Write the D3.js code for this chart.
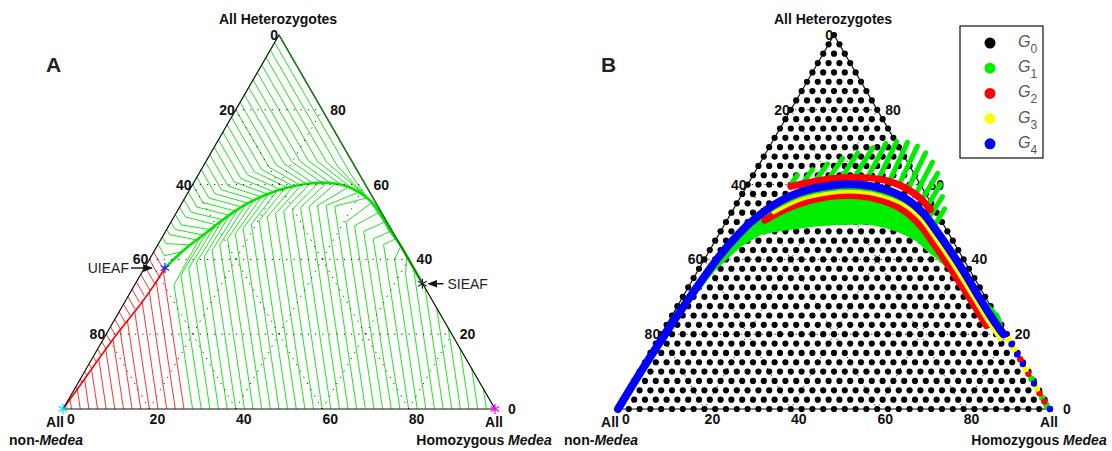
<!DOCTYPE html>
<html>
<head>
<meta charset="utf-8">
<script src="https://cdnjs.cloudflare.com/ajax/libs/d3/7.8.5/d3.min.js"></script>
<style>
  body { margin: 0; background: #fff; }
  text { font-family: "Liberation Sans", Arial, Helvetica, sans-serif; }
  .tick { font-size: 14px; font-weight: bold; fill: #111; }
  .corner { font-size: 14px; font-weight: bold; fill: #111; }
</style>
</head>
<body>
<div id="plot"></div>
<script>
// Medea ternary plots
// every point is [Medea allele %, heterozygote %]
// (allele % = homozygous Medea % + half the heterozygotes, i.e. the across position)

var svgWidth = 1112;
var svgHeight = 451;

var tickValues = [0, 20, 40, 60, 80];
var gridValues = [20, 40, 60, 80];

// ---- panel A : trajectories ----
var redArc = [[0, 0], [4, 6.4], [8.6, 13.9], [13.2, 21.1], [17.8, 27.8], [21, 33], [23.6, 37.7]];
var greenArc = [[23.6, 37.7], [28, 42.5], [33, 47], [37.5, 51], [42, 54.5], [47, 57.3], [52, 59.2],
  [57, 60.3], [61, 60.5], [65, 59.8], [68.5, 58], [71.5, 55.3], [73.8, 51.5], [75.8, 47.5],
  [77.7, 44.5], [83.2, 33.5]];

var redLines = [
  [[2, 0], [1.6, 2.6]], [[4, 0], [3.3, 5.3]], [[6, 0], [5, 8]], [[8, 0], [6.6, 10.7]],
  [[10, 0], [8.3, 13.3]], [[12, 0], [9.9, 15.9]], [[14, 0], [11.6, 18.5]], [[16, 0], [13.2, 21.2]],
  [[18, 0], [14.9, 23.6]], [[20, 0], [16.6, 26.1]], [[22, 0], [18.3, 28.9]], [[24, 0], [20, 31.1]],
  [[26, 0], [21.6, 34]], [[28, 0], [23.2, 36.9]],
  [[3, 6], [3.3, 5.3]], [[4, 8], [4.4, 7.1]], [[5, 10], [5.6, 8.9]], [[6, 12], [6.7, 10.7]],
  [[7, 14], [7.8, 12.4]], [[8, 16], [8.9, 14.2]], [[9, 18], [10, 16]], [[10, 20], [11.1, 17.8]],
  [[11, 22], [12.2, 19.6]], [[12, 24], [13.3, 21.3]], [[13, 26], [14.4, 23.1]], [[14, 28], [15.6, 24.9]],
  [[15, 30], [16.7, 26.7]], [[16, 32], [17.7, 28.5]], [[17, 34], [18.8, 30.3]], [[18, 36], [20.2, 31.6]],
  [[19, 38], [21.25, 33.5]], [[20, 40], [22.3, 35.3]], [[21, 42], [23.3, 37.3]]
];

var greenLines = [
  // from the base up to the curve
  [[30, 0], [25.7, 33.2], [31.7, 45.8]], [[32, 0], [27.3, 35.8], [33.3, 47.2]],
  [[34, 0], [29.1, 37.6], [35.1, 48.8]], [[36, 0], [30.9, 39.2], [36.9, 50.5]],
  [[38, 0], [32.7, 40.7], [38.7, 52.1]], [[40, 0], [34.5, 42.4], [40.5, 53.3]],
  [[42, 0], [36.3, 44], [42.3, 54.6]], [[44, 0], [38.1, 45.5], [44.1, 55.6]],
  [[46, 0], [39.9, 46.9], [45.9, 56.6]], [[48, 0], [41.7, 48.3], [47.7, 57.6]],
  [[50, 0], [43.6, 49.4], [49.6, 58.4]], [[52, 0], [45.4, 50.4], [51.4, 59]],
  [[54, 0], [47.3, 51.4], [53.3, 59.5]], [[56, 0], [49.2, 52.2], [55.2, 59.9]],
  [[58, 0], [51.1, 52.9], [57.1, 60.2]], [[60, 0], [53.1, 53.4], [59.1, 60.4]],
  [[62, 0], [55, 53.9], [61, 60.4]], [[64, 0], [57, 54.2], [63, 60.2]],
  [[66, 0], [58.9, 54.4], [66, 59.3]], [[68, 0], [60.9, 54.4], [68.5, 58]],
  [[70, 0], [62.9, 54.2], [70.5, 56.5]], [[72, 0], [65.5, 50], [71.5, 55.2]],
  [[74, 0], [67.5, 49], [73, 52.5]], [[76, 0], [69.6, 47.5], [74.5, 50]],
  [[78, 0], [71.8, 45.5], [75.8, 47.5]], [[80, 0], [74.2, 44], [77, 45.5]],
  [[82, 0], [76.8, 40], [78.2, 43.6]], [[84, 0], [79.3, 36], [79.6, 40.8]],
  [[86, 0], [81.1, 37.8]], [[88, 0], [83.8, 32.4]], [[90, 0], [86.5, 27]],
  [[92, 0], [89.2, 21.6]], [[94, 0], [91.9, 16.2]], [[96, 0], [94.6, 10.8]], [[98, 0], [97.3, 5.4]],
  // from the left side down to the curve
  [[22, 44], [23.5, 41], [27.5, 42]], [[23, 46], [23.9, 44.2], [29.5, 43.9]],
  [[24, 48], [24.7, 46.6], [31, 45.2]], [[25, 50], [26, 48], [32.5, 46.5]],
  [[26, 52], [27.4, 49.2], [34, 48]], [[27, 54], [28.3, 51.4], [35.5, 49.2]],
  [[28, 56], [29.7, 52.6], [37, 50.6]], [[29, 58], [31, 54], [38.5, 51.8]],
  [[30, 60], [32.4, 55.2], [40, 52.9]], [[31, 62], [33.8, 56.4], [41.5, 54]],
  [[32, 64], [35.25, 57.5], [43, 55]], [[33, 66], [36.7, 58.6], [44.5, 55.9]],
  [[34, 68], [38.2, 59.6], [46, 56.7]], [[35, 70], [39.65, 60.7], [47.5, 57.4]],
  [[36, 72], [41.2, 61.6], [49, 58]], [[37, 74], [42.7, 62.6], [50.5, 58.6]],
  [[38, 76], [44.3, 63.4], [52, 59.2]], [[39, 78], [46, 64], [53.5, 59.5]],
  [[40, 80], [47.65, 64.7], [55, 59.8]], [[41, 82], [49.4, 65.2], [56.5, 60.1]],
  [[42, 84], [51.2, 65.6], [58, 60.3]], [[43, 86], [52.95, 66.1], [60, 60.5]],
  [[44, 88], [54.9, 66.2], [62, 60.3]], [[45, 90], [56.8, 66.4], [64.5, 59.9]],
  [[46, 92], [58.9, 66.2], [67, 58.9]], [[47, 94], [61, 66], [69.5, 57.6]],
  [[48, 96], [63.5, 65], [72, 54.5]], [[49, 98], [66.6, 62.8], [75, 49]],
  [[50, 100], [83.2, 33.5]]
];

var uieaf = [23.6, 37.7];
var sieaf = [83.2, 33.5];

// ---- panel B : generations ----
var gridPct = [0, 2.5, 5, 7.5, 10, 12.5, 15, 17.5, 20, 22.5, 25, 27.5, 30, 32.5, 35, 37.5, 40,
  42.5, 45, 47.5, 50, 52.5, 55, 57.5, 60, 62.5, 65, 67.5, 70, 72.5, 75, 77.5, 80, 82.5, 85,
  87.5, 90, 92.5, 95, 97.5, 100];

var genNames = ["0", "1", "2", "3", "4"];
var genColors = ["#000000", "#00ee00", "#ff0000", "#ffff00", "#0000ff"];

var g1Region = [[16, 28], [22, 37], [28, 43.5], [33, 47], [37.5, 47.9], [45.6, 49.2], [51, 49.6],
  [57.9, 49.7], [62, 48.8], [66.2, 47.1], [69.5, 45], [71.8, 42.5], [74.5, 40], [76.9, 37.2],
  [78.9, 35], [80.8, 32.6], [83, 30.5], [85, 28.3], [86.8, 26.5], [88.2, 24.6], [89.2, 20],
  [86.2, 25], [83, 31], [79.9, 37], [76.8, 42.5], [73.8, 47.5], [70.5, 52.5], [66.5, 56.3],
  [61.5, 58.8], [55.5, 60], [49, 59.7], [42.3, 58], [36, 54.5], [30.8, 50], [26.5, 45],
  [22.9, 40], [16.7, 30]];
var g1Streaks = [
  [[40, 60], [41.5, 62.5]], [[43, 60.8], [45, 64]], [[46, 61.5], [48.5, 65.5]],
  [[49, 62], [52, 67]], [[52, 62.3], [55.5, 68.5]], [[55, 62.5], [59, 69.8]],
  [[58, 62.4], [62, 71]], [[60.5, 62], [64.5, 71.5]], [[63, 61.3], [67, 71.3]],
  [[65.2, 60.3], [69.3, 70.3]], [[67.2, 59], [71.2, 68.5]], [[69, 57.5], [72.8, 66]],
  [[70.3, 55.8], [74, 63]], [[71.5, 54], [74.6, 60]], [[72.5, 52], [75.1, 56.8]],
  [[73.5, 49.5], [75.6, 53.5]]
];
var g2Outer = [[40, 59.5], [46, 61], [52, 61.8], [58, 61.8], [63, 60.8], [67, 58.8], [70, 56.3], [72.3, 53.3]];
var g2Inner = [[34, 50.5], [38, 53], [42.3, 55], [49, 56.8], [55.5, 57], [61.5, 55.6], [66.5, 52.8],
  [70.2, 48.8], [73, 44.3], [76, 39.3], [79, 34], [82.2, 28.2], [85.3, 22.3]];
var g3Curve = [[36, 52.5], [42.3, 56], [49, 57.7], [55.5, 58], [61.5, 56.8], [66.5, 54.3], [70.3, 50.5],
  [73.3, 45.7], [76.3, 40.7], [79.3, 35.3], [82.4, 29.5], [85.5, 23.6], [88.5, 18.5]];
var g4Curve = [[0, 0], [5.3, 10], [10.9, 20], [16.7, 30], [22.9, 40], [26.5, 45], [30.8, 50],
  [36, 54.5], [42.3, 58], [49, 59.7], [55.5, 60], [61.5, 58.8], [66.5, 56.3], [70.5, 52.5],
  [73.8, 47.5], [76.8, 42.5], [79.9, 37], [83, 31], [86.2, 25], [89.2, 20]];

var g1EdgeDots = [[95.7, 8.1], [98.2, 3], [99.2, 1]];
var g2EdgeDots = [[93.1, 13.3], [95, 9.4], [97.6, 4.2], [98.7, 2]];
var g3EdgeDots = [[90.4, 18.6], [91.7, 16], [94.4, 10.7], [97, 5.5]];
var g4EdgeDots = [[89.7, 20], [91.1, 17.3], [92.4, 14.6], [93.7, 12], [96.3, 6.8], [100, 0]];

// ---- scales shared by both triangles ----
var side = 432;
var triH = 374;
var xScale = d3.scaleLinear().domain([0, 100]).range([0, side]);
var yScale = d3.scaleLinear().domain([0, 100]).range([triH, 0]);

var line = d3.line().x(d => xScale(d[0])).y(d => yScale(d[1]));
var curve = d3.line().curve(d3.curveCatmullRom).x(d => xScale(d[0])).y(d => yScale(d[1]));

var svg = d3.select("#plot")
  .append("svg")
  .attr("width", svgWidth)
  .attr("height", svgHeight)
  .style("background", "#fff");

var panelA = svg.append("g").attr("transform", "translate(63, 35)");
var panelB = svg.append("g").attr("transform", "translate(618, 35)");

// dotted ternary grid
function drawGrid(g, dash) {
  var segs = [];
  gridValues.forEach(function (v) {
    segs.push([[v / 2, v], [100 - v / 2, v]]);                 // same heterozygotes
    segs.push([[v, 0], [v + (100 - v) / 2, 100 - v]]);         // same homozygous Medea
    segs.push([[100 - v, 0], [(100 - v) / 2, 100 - v]]);       // same non-Medea
  });
  g.append("g").selectAll("path")
    .data(segs)
    .enter()
    .append("path")
    .attr("d", line)
    .attr("fill", "none")
    .attr("stroke", "#222")
    .attr("stroke-width", 1)
    .attr("stroke-dasharray", dash);
}

function drawFrame(g, letter) {
  g.append("path")
    .attr("d", line([[0, 0], [100, 0], [50, 100], [0, 0]]))
    .attr("fill", "none")
    .attr("stroke", "#111")
    .attr("stroke-width", 1.2);

  // left side: non-Medea %
  g.append("g").selectAll("text")
    .data(tickValues)
    .enter()
    .append("text")
    .attr("class", "tick")
    .attr("text-anchor", "end")
    .attr("x", d => xScale((100 - d) / 2) - 1)
    .attr("y", d => yScale(100 - d) + 5)
    .text(d => d);

  // right side: heterozygotes %
  g.append("g").selectAll("text")
    .data(tickValues)
    .enter()
    .append("text")
    .attr("class", "tick")
    .attr("x", d => xScale(100 - d / 2) + (d === 0 ? 13 : 8))
    .attr("y", d => yScale(d) + 5)
    .text(d => d);

  // base: homozygous Medea %
  g.append("g").selectAll("text")
    .data(tickValues)
    .enter()
    .append("text")
    .attr("class", "tick")
    .attr("text-anchor", "middle")
    .attr("x", d => xScale(d) + 8)
    .attr("y", yScale(0) + 15)
    .text(d => d);

  g.append("text").attr("class", "corner")
    .attr("text-anchor", "middle")
    .attr("x", xScale(50) - 1).attr("y", yScale(100) - 11)
    .text("All Heterozygotes");

  g.append("text").attr("class", "corner")
    .attr("text-anchor", "middle")
    .attr("x", xScale(0) - 8).attr("y", yScale(0) + 18)
    .text("All");
  var nm = g.append("text").attr("class", "corner")
    .attr("text-anchor", "middle")
    .attr("x", xScale(0) - 17).attr("y", yScale(0) + 36);
  nm.append("tspan").text("non-");
  nm.append("tspan").attr("font-style", "italic").text("Medea");

  g.append("text").attr("class", "corner")
    .attr("text-anchor", "middle")
    .attr("x", xScale(100) - 1).attr("y", yScale(0) + 18)
    .text("All");
  var hm = g.append("text").attr("class", "corner")
    .attr("text-anchor", "middle")
    .attr("x", xScale(100) - 11).attr("y", yScale(0) + 36);
  hm.append("tspan").text("Homozygous ");
  hm.append("tspan").attr("font-style", "italic").text("Medea");

  g.append("text")
    .attr("x", -17).attr("y", 37)
    .attr("font-size", "21px")
    .attr("font-weight", "bold")
    .attr("fill", "#222")
    .text(letter);
}

// ---- Panel A ----
panelA.append("g").selectAll("path")
  .data(greenLines)
  .enter()
  .append("path")
  .attr("d", line)
  .attr("fill", "none")
  .attr("stroke", "#00e400")
  .attr("stroke-width", 0.9);

panelA.append("g").selectAll("path")
  .data(redLines)
  .enter()
  .append("path")
  .attr("d", line)
  .attr("fill", "none")
  .attr("stroke", "#ff1a1a")
  .attr("stroke-width", 0.9);

panelA.append("path")
  .attr("d", curve(greenArc))
  .attr("fill", "none")
  .attr("stroke", "#00e400")
  .attr("stroke-width", 2.6);

panelA.append("path")
  .attr("d", curve(redArc))
  .attr("fill", "none")
  .attr("stroke", "#ff0000")
  .attr("stroke-width", 1.6);

drawGrid(panelA, "1.2,6");
drawFrame(panelA, "A");

// right side overlaid green down to SIEAF
panelA.append("path")
  .attr("d", line([[50, 100], sieaf]))
  .attr("stroke", "#1a8a1a")
  .attr("stroke-width", 1.3);

var star = d3.symbol().type(d3.symbolAsterisk).size(70);
var stars = [
  { p: [0, 0], c: "#00e5ee" },
  { p: [100, 0], c: "#ff00ff" },
  { p: uieaf, c: "#2222ff" },
  { p: sieaf, c: "#222" }
];
panelA.append("g").selectAll("path")
  .data(stars)
  .enter()
  .append("path")
  .attr("d", star)
  .attr("transform", d => `translate(${xScale(d.p[0])}, ${yScale(d.p[1])})`)
  .attr("fill", "none")
  .attr("stroke", d => d.c)
  .attr("stroke-width", 1.3);

svg.append("defs").append("marker")
  .attr("id", "head")
  .attr("viewBox", "0 0 10 10")
  .attr("refX", 9).attr("refY", 5)
  .attr("markerWidth", 7).attr("markerHeight", 7)
  .attr("orient", "auto")
  .append("path")
  .attr("d", "M0,1 L10,5 L0,9 Z")
  .attr("fill", "#111");

var ux = xScale(uieaf[0]), uy = yScale(uieaf[1]);
panelA.append("line")
  .attr("x1", ux - 34).attr("y1", uy).attr("x2", ux - 13).attr("y2", uy)
  .attr("stroke", "#111").attr("stroke-width", 1.4)
  .attr("marker-end", "url(#head)");
panelA.append("text")
  .attr("text-anchor", "end")
  .attr("x", ux - 36).attr("y", uy + 5)
  .attr("font-size", "14px").attr("fill", "#222")
  .text("UIEAF");

var sx = xScale(sieaf[0]), sy = yScale(sieaf[1]);
panelA.append("line")
  .attr("x1", sx + 21).attr("y1", sy).attr("x2", sx + 6).attr("y2", sy)
  .attr("stroke", "#111").attr("stroke-width", 1.4)
  .attr("marker-end", "url(#head)");
panelA.append("text")
  .attr("x", sx + 25).attr("y", sy + 5)
  .attr("font-size", "14px").attr("fill", "#222")
  .text("SIEAF");

// ---- Panel B ----
drawGrid(panelB, "1.2,3");

var g0 = [];
gridPct.forEach(function (h) {
  gridPct.forEach(function (m) {
    if (h + m <= 100) g0.push([m + h / 2, h]);
  });
});

panelB.append("g").selectAll("circle")
  .data(g0)
  .enter()
  .append("circle")
  .attr("cx", d => xScale(d[0]))
  .attr("cy", d => yScale(d[1]))
  .attr("r", 3.1)
  .attr("fill", genColors[0]);

drawFrame(panelB, "B");

panelB.append("path")
  .attr("d", line(g1Region) + "Z")
  .attr("fill", genColors[1])
  .attr("stroke", genColors[1])
  .attr("stroke-width", 3)
  .attr("stroke-linejoin", "round");

panelB.append("g").selectAll("path")
  .data(g1Streaks)
  .enter()
  .append("path")
  .attr("d", line)
  .attr("stroke", genColors[1])
  .attr("stroke-width", 5)
  .attr("stroke-linecap", "round");

panelB.append("path")
  .attr("d", curve(g2Outer))
  .attr("fill", "none")
  .attr("stroke", genColors[2])
  .attr("stroke-width", 7)
  .attr("stroke-linecap", "round");

panelB.append("path")
  .attr("d", curve(g2Inner))
  .attr("fill", "none")
  .attr("stroke", genColors[2])
  .attr("stroke-width", 7)
  .attr("stroke-linecap", "round");

panelB.append("path")
  .attr("d", curve(g3Curve))
  .attr("fill", "none")
  .attr("stroke", genColors[3])
  .attr("stroke-width", 3.5)
  .attr("stroke-linecap", "round");

panelB.append("path")
  .attr("d", curve(g4Curve))
  .attr("fill", "none")
  .attr("stroke", genColors[4])
  .attr("stroke-width", 8)
  .attr("stroke-linecap", "round");

[g1EdgeDots, g2EdgeDots, g3EdgeDots, g4EdgeDots].forEach(function (dots, i) {
  panelB.append("g").selectAll("circle")
    .data(dots)
    .enter()
    .append("circle")
    .attr("cx", d => xScale(d[0]))
    .attr("cy", d => yScale(d[1]))
    .attr("r", 3.2)
    .attr("fill", genColors[i + 1]);
});

// legend
var legend = svg.append("g").attr("transform", "translate(960, 26)");
legend.append("rect")
  .attr("width", 83).attr("height", 132)
  .attr("fill", "#fff")
  .attr("stroke", "#111")
  .attr("stroke-width", 1.2);

var rows = legend.selectAll("g.row")
  .data(genNames)
  .enter()
  .append("g")
  .attr("class", "row")
  .attr("transform", (d, i) => `translate(0, ${17 + i * 25.2})`);

rows.append("circle")
  .attr("cx", 30).attr("r", 5.5)
  .attr("fill", (d, i) => genColors[i]);

var lab = rows.append("text")
  .attr("x", 58).attr("y", 4)
  .attr("fill", "#555");
lab.append("tspan").attr("font-style", "italic").attr("font-size", "16px").text("G");
lab.append("tspan").attr("font-size", "12px").attr("dy", 6).text(d => d);
</script>
</body>
</html>
